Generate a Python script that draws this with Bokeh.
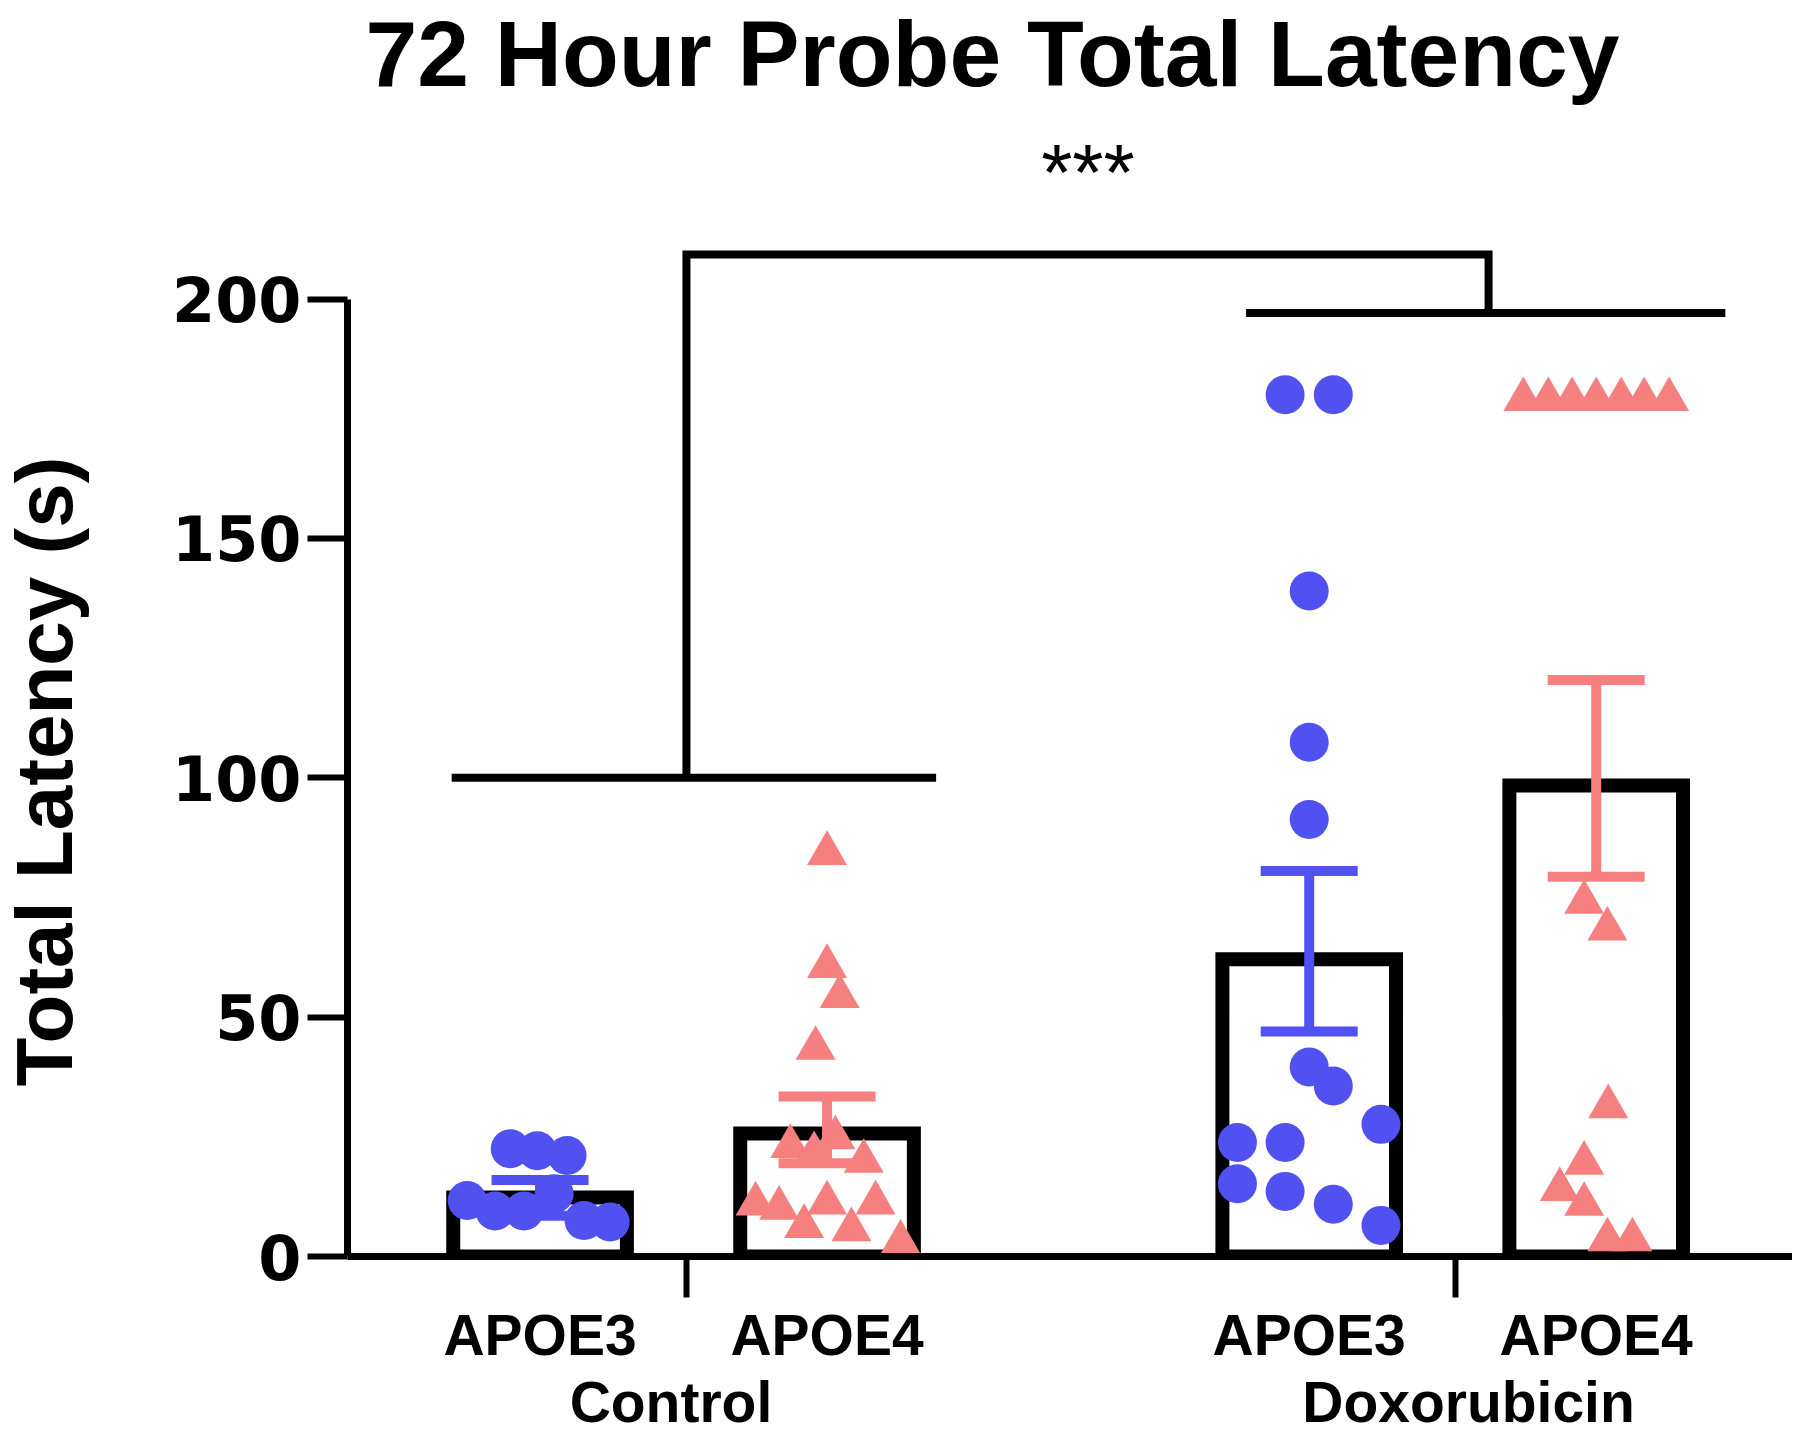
import math
from bokeh.plotting import figure
from bokeh.models import LinearAxis, FixedTicker, Range1d, ColumnDataSource
from bokeh.core.properties import value
from bokeh.embed import file_html
from bokeh.resources import INLINE

# ---------------- data ----------------
title_text = "72 Hour Probe Total Latency"
y_label = "Total Latency (s)"
genotypes = ["APOE3", "APOE4", "APOE3", "APOE4"]
treatments = ["Control", "Doxorubicin"]
bar_x = [1.0, 2.0, 3.68, 4.68]
group_tick_x = [1.51, 4.19]
group_label_x = [1.456, 4.235]
bar_means = [12.3, 25.7, 62.1, 98.4]
err_low = [8.5, 19.5, 47.0, 79.3]
err_high = [16.0, 33.4, 80.5, 120.4]
y_ticks = [0, 50, 100, 150, 200]

# individual animals: horizontal jitter (x units) and latency (s)
ctrl_e3_dx = [-0.104, -0.010, 0.094, -0.254, -0.157, -0.056, 0.049, 0.153, 0.244]
ctrl_e3_y = [22.5, 22.1, 21.1, 11.7, 9.5, 9.5, 13.1, 7.5, 7.2]

ctrl_e4_dx = [0.0, 0.0, 0.044, -0.040, -0.128, -0.045, 0.029, 0.128,
              -0.249, -0.167, -0.080, 0.0, 0.085, 0.169, 0.256]
ctrl_e4_y = [84.2, 60.6, 54.3, 43.5, 23.0, 21.5, 24.8, 19.9,
             11.0, 10.1, 6.3, 11.2, 5.6, 11.2, 3.0]

dox_e3_dx = [-0.084, 0.084, 0.0, 0.0, 0.0, 0.0, 0.084, 0.25, -0.25, -0.084,
             -0.25, -0.084, 0.084, 0.25]
dox_e3_y = [180, 180, 139, 107.4, 91.3, 39.6, 35.6, 27.6, 23.8, 23.8,
            15.2, 13.6, 10.9, 6.5]

dox_e4_dx = [-0.254, -0.167, -0.084, 0.0, 0.087, 0.167, 0.254,
             -0.042, 0.039, 0.042, -0.042, -0.127, -0.042, 0.039, 0.126]
dox_e4_y = [179, 179, 179, 179, 179, 179, 179,
            74.0, 68.4, 31.3, 19.5, 14.0, 10.9, 3.5, 3.5]

# significance annotation
bracket_x = [1.51, 1.51, 4.305, 4.305]
bracket_y = [100.0, 209.3, 209.3, 197.1]
ctrl_line_x = [0.692, 2.380]
ctrl_line_y = [100.0, 100.0]
dox_line_x = [3.46, 5.13]
dox_line_y = [197.1, 197.1]
sig_label = "***"
sig_x = 2.909
sig_y = 226.4

BLUE = "#5151F2"
SALMON = "#F68080"
FONT = "Liberation Sans"
CAP_HALF = 0.169        # half width of error-bar caps (x units)
GROUP_LABEL_Y = -30.3   # anchor of treatment labels (below the axis)
YLABEL_X = -0.7285      # anchor of the rotated y-axis title
YLABEL_Y = 101.3        # centre of the rotated y-axis title

# ---------------- figure ----------------
p = figure(width=1792, height=1439, output_backend="svg", toolbar_location=None,
           x_range=Range1d(0.329, 5.364), y_range=Range1d(0, 240.0),
           x_axis_type=None, y_axis_type=None,
           min_border_left=347, min_border_right=0, min_border_top=107,
           min_border_bottom=183, title=title_text)
p.outline_line_color = None
p.background_fill_color = "white"
p.border_fill_color = "white"

p.title.text_font = FONT
p.title.text_font_style = "bold"
p.title.text_font_size = "93px"
p.title.text_color = "black"
p.title.align = "left"
p.title.offset = 18
p.title.vertical_align = "top"
p.title.standoff = 0

# y axis
yaxis = LinearAxis(ticker=FixedTicker(ticks=y_ticks), bounds=(0, 200))
yaxis.axis_line_width = 7
yaxis.major_tick_line_width = 6
yaxis.major_tick_out = 40
yaxis.major_tick_in = 0
yaxis.minor_tick_line_color = None
yaxis.major_label_text_font = "DejaVu Sans"
yaxis.major_label_text_font_style = "bold"
yaxis.major_label_text_font_size = "62px"
yaxis.major_label_text_color = "black"
yaxis.major_label_standoff = 6
p.add_layout(yaxis, "left")

# x axis: genotype labels, group ticks drawn as minor ticks
xaxis = LinearAxis(ticker=FixedTicker(ticks=bar_x, minor_ticks=group_tick_x),
                   major_label_overrides={x: g for x, g in zip(bar_x, genotypes)})
xaxis.axis_line_width = 7
xaxis.major_tick_line_color = None
xaxis.major_tick_out = 41
xaxis.major_tick_in = 0
xaxis.minor_tick_out = 41
xaxis.minor_tick_in = 0
xaxis.minor_tick_line_width = 6
xaxis.minor_tick_line_color = "black"
xaxis.major_label_text_font = FONT
xaxis.major_label_text_font_style = "bold"
xaxis.major_label_text_font_size = "57px"
xaxis.major_label_text_color = "black"
xaxis.major_label_standoff = 5
p.add_layout(xaxis, "below")

# bars
p.vbar(x=bar_x, top=bar_means, bottom=0, width=0.605, fill_color="white",
       line_color="black", line_width=14, line_join="miter")

# error bars (SEM), drawn between bars and points
for idx, col in [([0, 2], BLUE), ([1, 3], SALMON)]:
    xs = [bar_x[i] for i in idx]
    lo = [err_low[i] for i in idx]
    hi = [err_high[i] for i in idx]
    p.segment(x0=xs, y0=lo, x1=xs, y1=hi, line_color=col, line_width=10)
    p.segment(x0=[x - CAP_HALF for x in xs], y0=hi, x1=[x + CAP_HALF for x in xs],
              y1=hi, line_color=col, line_width=10)
    p.segment(x0=[x - CAP_HALF for x in xs], y0=lo, x1=[x + CAP_HALF for x in xs],
              y1=lo, line_color=col, line_width=10)

# points
def pts(base, dxs, ys):
    return ColumnDataSource(dict(x=[base + d for d in dxs], y=ys))

p.scatter("x", "y", source=pts(bar_x[0], ctrl_e3_dx, ctrl_e3_y), marker="circle",
          size=39, fill_color=BLUE, line_color=None)
p.scatter("x", "y", source=pts(bar_x[2], dox_e3_dx, dox_e3_y), marker="circle",
          size=39, fill_color=BLUE, line_color=None)
p.scatter("x", "y", source=pts(bar_x[1], ctrl_e4_dx, ctrl_e4_y), marker="triangle",
          size=40, fill_color=SALMON, line_color=None)
p.scatter("x", "y", source=pts(bar_x[3], dox_e4_dx, dox_e4_y), marker="triangle",
          size=40, fill_color=SALMON, line_color=None)

# significance bracket (drawn unclipped above the plotting frame)
p.line(bracket_x, bracket_y, line_color="black", line_width=8, line_join="miter",
       level="annotation")
p.line(ctrl_line_x, ctrl_line_y, line_color="black", line_width=8, level="annotation")
p.line(dox_line_x, dox_line_y, line_color="black", line_width=8, level="annotation")
p.text(x=[sig_x], y=[sig_y], text=[sig_label], text_font=value(FONT),
       text_font_size="80px", text_align="center", text_baseline="alphabetic",
       text_color="black", level="annotation")

# treatment group labels under the genotype labels
p.text(x=group_label_x, y=[GROUP_LABEL_Y] * len(treatments), text=treatments,
       text_font=value(FONT), text_font_style="bold", text_font_size="57px",
       text_align="center", text_baseline="alphabetic", text_color="black",
       level="annotation")

# y-axis title (rotated, centred on the 0-200 axis span)
p.text(x=[YLABEL_X], y=[YLABEL_Y], text=[y_label], angle=math.pi / 2,
       text_font=value(FONT), text_font_style="bold", text_font_size="80px",
       text_align="center", text_baseline="alphabetic", text_color="black",
       level="annotation")

open("out.html", "w").write(file_html(p, INLINE))
